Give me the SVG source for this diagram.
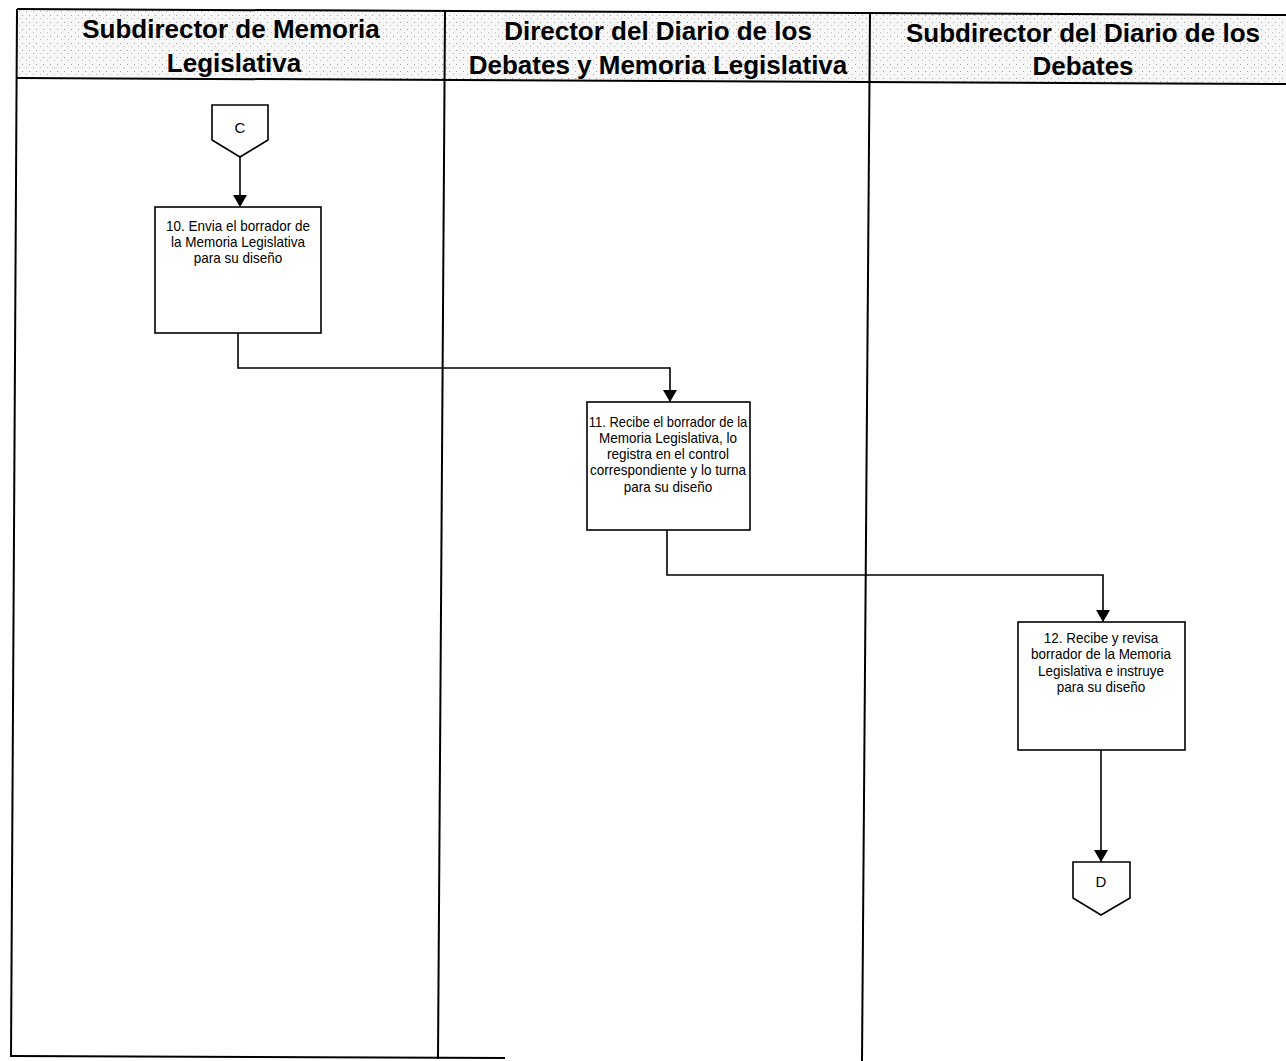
<svg xmlns="http://www.w3.org/2000/svg" width="1286" height="1061" viewBox="0 0 1286 1061">
<defs>
<marker id="ah" markerWidth="12" markerHeight="14" refX="12" refY="7" orient="auto" markerUnits="userSpaceOnUse">
<path d="M0,0 L12,7 L0,14 Z" fill="#000"/>
</marker>
<pattern id="stip" width="7" height="7" patternUnits="userSpaceOnUse">
<rect width="7" height="7" fill="#f7f7f7"/>
<rect x="1" y="1" width="1" height="1" fill="#a0a0a0"/>
<rect x="5" y="4" width="1" height="1" fill="#b8b8b8"/>
</pattern>
</defs>
<style>
.ln{stroke:#000;stroke-width:2;fill:none}
.box{stroke:#000;stroke-width:1.6;fill:#fff}
.hd{font-family:"Liberation Sans",Arial,sans-serif;font-weight:bold;font-size:26px;fill:#000;text-anchor:middle}
.tx{font-family:"Liberation Sans",Arial,sans-serif;font-size:15px;fill:#000;text-anchor:middle}
.cn{stroke:#000;stroke-width:1.6;fill:none}
</style>
<rect width="1286" height="1061" fill="#fff"/>
<g id="lanes">
<polygon points="17,9 1286,15 1286,84 17,78" fill="url(#stip)"/>
<line class="ln" x1="17" y1="9" x2="1286" y2="15"/>
<line class="ln" x1="17" y1="78" x2="1286" y2="84"/>
<line class="ln" x1="17" y1="9" x2="11" y2="1057"/>
<line class="ln" x1="445" y1="11" x2="438" y2="1059"/>
<line class="ln" x1="870" y1="13" x2="862" y2="1061"/>
<line class="ln" x1="11" y1="1056" x2="505" y2="1058"/>
<text class="hd" x="231" y="38">Subdirector de Memoria</text>
<text class="hd" x="234" y="72">Legislativa</text>
<text class="hd" x="658" y="40">Director del Diario de los</text>
<text class="hd" x="658" y="74">Debates y Memoria Legislativa</text>
<text class="hd" x="1083" y="42">Subdirector del Diario de los</text>
<text class="hd" x="1083" y="75">Debates</text>
</g>
<g id="connectors">
<line class="cn" x1="240" y1="157" x2="240" y2="207" marker-end="url(#ah)"/>
<polyline class="cn" points="238,333 238,368 670,368 670,402" marker-end="url(#ah)"/>
<polyline class="cn" points="667,530 667,575 1103,575 1103,622" marker-end="url(#ah)"/>
<line class="cn" x1="1101" y1="750" x2="1101" y2="862" marker-end="url(#ah)"/>
</g>
<g id="nodeC">
<polygon class="box" points="212,105 268,105 268,140 240,157 212,140"/>
<text class="tx" x="240" y="133" font-size="13">C</text>
</g>
<g id="node10">
<rect class="box" x="155" y="207" width="166" height="126"/>
<g transform="translate(238,0) scale(0.9,1)">
<text class="tx" x="0" y="231">10. Envia el borrador de</text>
<text class="tx" x="0" y="247">la Memoria Legislativa</text>
<text class="tx" x="0" y="263">para su diseño</text>
</g>
</g>
<g id="node11">
<rect class="box" x="587" y="402" width="163" height="128"/>
<g transform="translate(668,0) scale(0.9,1)">
<text class="tx" x="0" y="427" textLength="176" lengthAdjust="spacingAndGlyphs">11. Recibe el borrador de la</text>
<text class="tx" x="0" y="443">Memoria Legislativa, lo</text>
<text class="tx" x="0" y="459">registra en el control</text>
<text class="tx" x="0" y="475">correspondiente y lo turna</text>
<text class="tx" x="0" y="492">para su diseño</text>
</g>
</g>
<g id="node12">
<rect class="box" x="1018" y="622" width="167" height="128"/>
<g transform="translate(1101,0) scale(0.9,1)">
<text class="tx" x="0" y="643">12. Recibe y revisa</text>
<text class="tx" x="0" y="659">borrador de la Memoria</text>
<text class="tx" x="0" y="676">Legislativa e instruye</text>
<text class="tx" x="0" y="692">para su diseño</text>
</g>
</g>
<g id="nodeD">
<polygon class="box" points="1073,862 1130,862 1130,898 1101,915 1073,898"/>
<text class="tx" x="1101" y="887" font-size="13">D</text>
</g>
</svg>
